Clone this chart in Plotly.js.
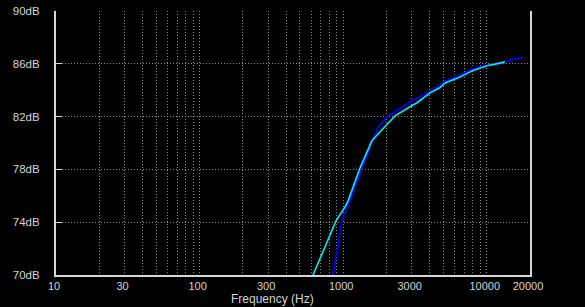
<!DOCTYPE html>
<html><head><meta charset="utf-8">
<script src="https://cdn.plot.ly/plotly-3.0.1.min.js"></script>
<style>html,body{margin:0;padding:0;background:#000;}#chart{width:585px;height:307px;}</style>
</head><body><div id="chart"></div>
<script>
// Cyan response curve (Hz, dB)
const cyanFreq = [617, 747, 891, 1029, 1080, 1309, 1587, 2018, 2296, 2920, 3267, 4024, 4724, 5117, 6505, 8014, 10030, 12350, 13390];
const cyanDb   = [70.0, 72.1, 74.1, 75.15, 75.6, 78.1, 80.2, 81.4, 82.05, 82.75, 83.05, 83.8, 84.2, 84.55, 85.0, 85.5, 85.85, 86.05, 86.15];
// Blue response curve (Hz, dB)
const blueFreq = [849, 981, 1352, 1614, 1750, 2052, 2920, 3896, 4724, 5117, 6505, 8014, 10030, 12350, 15240, 17860];
const blueDb   = [70.0, 74.1, 78.1, 80.2, 81.2, 82.05, 83.1, 83.85, 84.4, 84.7, 85.15, 85.65, 85.9, 86.05, 86.35, 86.5];
// Axis ticks
const xTickVals = [10, 30, 100, 300, 1000, 3000, 10000, 20000];
const xTickText = ["10", "30", "100", "300", "1000", "3000", "10000", "20000"];
const xMinorGrid = [20,40,50,60,70,80,90,200,400,500,600,700,800,900,2000,4000,5000,6000,7000,8000,9000];
const yTickVals = [70, 74, 78, 82, 86, 90];
const yTickText = ["70dB", "74dB", "78dB", "82dB", "86dB", "90dB"];
const xTitle = "Frequency (Hz)";

const gridCol = "#8c8c8c";
const txtCol = "#d4d4d4";
const fam = "Liberation Sans, Arial, sans-serif";
const dash = "1px,2px";

const traces = [
  {x: blueFreq, y: blueDb, type: "scatter", mode: "lines", line: {color: "#0000ff", width: 1.8}, hoverinfo: "skip"},
  {x: cyanFreq, y: cyanDb, type: "scatter", mode: "lines", line: {color: "#00eeee", width: 1.6}, hoverinfo: "skip"}
];
const layout = {
  width: 585, height: 307,
  paper_bgcolor: "#000", plot_bgcolor: "#000",
  margin: {l: 56, r: 55, t: 11, b: 32},
  showlegend: false,
  font: {family: fam, size: 11, color: txtCol},
  xaxis: {
    type: "log", range: [1, Math.log10(20000)],
    tickvals: xTickVals, ticktext: xTickText,
    showgrid: true, gridcolor: gridCol, griddash: dash, gridwidth: 1,
    minor: {tickvals: xMinorGrid, showgrid: true, gridcolor: gridCol, griddash: dash, gridwidth: 1, ticks: ""},
    showline: true, linecolor: "#d8d8d8", linewidth: 2,
    ticks: "", tickfont: {family: fam, size: 11, color: txtCol},
    ticklabelstandoff: 0, ticklabelshift: -2,
    zeroline: false
  },
  yaxis: {
    range: [70, 90],
    tickvals: yTickVals, ticktext: yTickText,
    showgrid: true, gridcolor: gridCol, griddash: dash, gridwidth: 1,
    showline: true, linecolor: "#d8d8d8", linewidth: 2, mirror: true,
    ticks: "inside", ticklen: 6, tickcolor: "#d8d8d8", tickwidth: 1,
    tickfont: {family: fam, size: 11.5, color: txtCol},
    ticklabelstandoff: 12,
    zeroline: false
  },
  annotations: [{
    text: xTitle, xref: "paper", yref: "paper", x: (272 - 56) / 474, y: 0,
    xanchor: "center", yanchor: "middle", yshift: -24, showarrow: false,
    font: {family: fam, size: 12, color: txtCol}
  }]
};
Plotly.newPlot("chart", traces, layout, {staticPlot: true, displayModeBar: false});
</script></body></html>
